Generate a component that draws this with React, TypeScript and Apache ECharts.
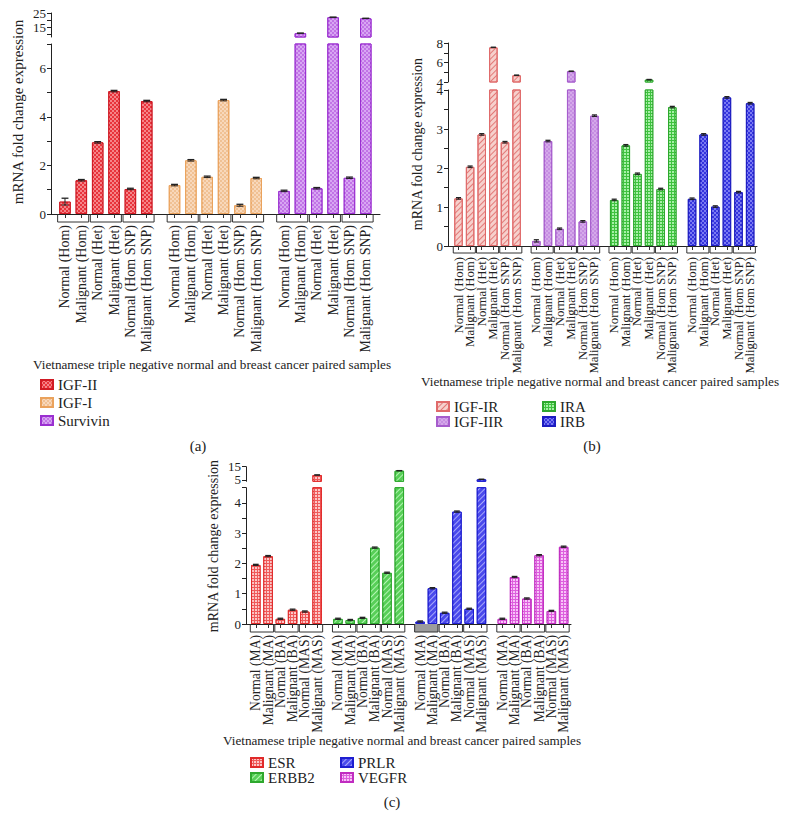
import React, { useEffect, useRef } from "react";
import * as echarts from "echarts";

// ---------- data ----------
const LABELS_AB = ["Normal (Hom)", "Malignant (Hom)", "Normal (Het)", "Malignant (Het)", "Normal (Hom SNP)", "Malignant (Hom SNP)"];
const LABELS_C = ["Normal (MA)", "Malignant (MA)", "Normal (BA)", "Malignant (BA)", "Normal (MAS)", "Malignant (MAS)"];

// panel (a)
const IGF2 = [0.51, 1.39, 2.95, 5.06, 1.03, 4.65];
const IGF2_ERR = [0.14, 0.03, 0.03, 0.03, 0.03, 0.03];
const IGF1 = [1.19, 2.21, 1.53, 4.69, 0.36, 1.48];
const IGF1_ERR = [0.03, 0.03, 0.03, 0.03, 0.04, 0.03];
const SURVIVIN = [0.95, 10.7, 1.06, 22.0, 1.49, 21.2];
const SURVIVIN_ERR = [0.03, 0.05, 0.03, 0.05, 0.03, 0.05];

// panel (b)
const IGF1R = [1.22, 2.03, 2.86, 7.55, 2.66, 4.69];
const IGF1R_ERR = [0.02, 0.02, 0.02, 0.02, 0.02, 0.02];
const IGF2R = [0.13, 2.69, 0.44, 5.1, 0.63, 3.34];
const IGF2R_ERR = [0.03, 0.02, 0.02, 0.02, 0.02, 0.02];
const IRA = [1.18, 2.58, 1.85, 4.24, 1.46, 3.56];
const IRA_ERR = [0.02, 0.02, 0.02, 0.02, 0.02, 0.02];
const IRB = [1.21, 2.86, 1.01, 3.81, 1.38, 3.66];
const IRB_ERR = [0.02, 0.02, 0.02, 0.02, 0.02, 0.02];

// panel (c)
const ESR = [1.95, 2.24, 0.17, 0.47, 0.41, 8.75];
const ESR_ERR = [0.02, 0.02, 0.02, 0.02, 0.02, 0.05];
const ERBB2 = [0.17, 0.13, 0.2, 2.52, 1.69, 12.0];
const ERBB2_ERR = [0.02, 0.02, 0.02, 0.02, 0.02, 0.05];
const PRLR = [0.08, 1.18, 0.37, 3.71, 0.5, 5.5];
const PRLR_ERR = [0.02, 0.02, 0.02, 0.02, 0.02, 0.05];
const VEGFR = [0.17, 1.55, 0.84, 2.27, 0.43, 2.55];
const VEGFR_ERR = [0.02, 0.02, 0.02, 0.02, 0.02, 0.02];

// axis ticks / labels
const A_LOWER_LABELS = [0, 2, 4, 6];
const A_LOWER_TICKS = [0, 1, 2, 3, 4, 5, 6, 7];
const A_UPPER_LABELS = [15, 25];
const A_UPPER_TICKS = [10, 15, 20, 25];
const B_LOWER_LABELS = [0, 1, 2, 3, 4];
const B_LOWER_TICKS = [0, 0.5, 1, 1.5, 2, 2.5, 3, 3.5, 4];
const B_UPPER_LABELS = [4, 6, 8];
const B_UPPER_TICKS = [4, 5, 6, 7, 8];
const C_LOWER_LABELS = [0, 1, 2, 3, 4];
const C_LOWER_TICKS = [0, 0.5, 1, 1.5, 2, 2.5, 3, 3.5, 4, 4.5];
const C_UPPER_LABELS = [5, 15];
const C_UPPER_TICKS = [5, 15];

const X_TITLE = "Vietnamese triple negative normal and breast cancer paired samples";
const Y_TITLE = "mRNA fold change expression";

// ---------- styling helpers ----------
const FONT = "'Liberation Serif', 'Times New Roman', serif";
const INK = "#222";
const GAP = 0.7;
const posOf = (g: number, i: number) => g * (6 + GAP) + i;

const checker = (c: string) => ({ symbol: "rect", symbolSize: 1, dashArrayX: [[2, 2], [0, 2, 2, 0]], dashArrayY: [2, 0], color: c });
const gridPat = (c: string) => ({ symbol: "rect", symbolSize: 1, dashArrayX: [2, 1], dashArrayY: [2, 1], color: c });
const hatch = (c: string) => ({ symbol: "rect", symbolSize: 1, dashArrayX: [1, 0], dashArrayY: [1, 3], rotation: -Math.PI / 4, color: c });

type Gene = { name: string; values: number[]; errs: number[]; color: string; border: string; decal: any };
type Panel = {
  genes: Gene[];
  labels: string[];
  lower: { left: number; top: number; width: number; height: number };
  upper: { left: number; top: number; width: number; height: number };
  xMin: number; xMax: number;
  lowerMax: number; upperMin: number; upperMax: number;
  lowerLabels: number[]; lowerTicks: number[]; upperLabels: number[]; upperTicks: number[];
  barWidth: number; boxDepth: number; filled: number[]; labelSize: number;
};

const PANELS: Panel[] = [
  {
    genes: [
      { name: "IGF-II", values: IGF2, errs: IGF2_ERR, color: "#e8343c", border: "#d01a24", decal: checker("rgba(255,200,200,0.55)") },
      { name: "IGF-I", values: IGF1, errs: IGF1_ERR, color: "#f0c194", border: "#eaa25c", decal: checker("rgba(255,240,225,0.5)") },
      { name: "Survivin", values: SURVIVIN, errs: SURVIVIN_ERR, color: "#c174e6", border: "#9a2fd0", decal: checker("rgba(240,215,255,0.5)") },
    ],
    labels: LABELS_AB,
    lower: { left: 51, top: 44, width: 329, height: 170 },
    upper: { left: 51, top: 13, width: 329, height: 24 },
    xMin: -0.856, xMax: 19.27,
    lowerMax: 7, upperMin: 8, upperMax: 25,
    lowerLabels: A_LOWER_LABELS, lowerTicks: A_LOWER_TICKS, upperLabels: A_UPPER_LABELS, upperTicks: A_UPPER_TICKS,
    barWidth: 11.5, boxDepth: 8, filled: [], labelSize: 14,
  },
  {
    genes: [
      { name: "IGF-IR", values: IGF1R, errs: IGF1R_ERR, color: "#f6d0cc", border: "#e06a6a", decal: hatch("#e27a78") },
      { name: "IGF-IIR", values: IGF2R, errs: IGF2R_ERR, color: "#c68fe2", border: "#a65ccc", decal: checker("rgba(230,200,245,0.45)") },
      { name: "IRA", values: IRA, errs: IRA_ERR, color: "#3fc23f", border: "#2ea82e", decal: gridPat("rgba(200,255,200,0.75)") },
      { name: "IRB", values: IRB, errs: IRB_ERR, color: "#3535de", border: "#1c1cc0", decal: checker("rgba(170,170,255,0.6)") },
    ],
    labels: LABELS_AB,
    lower: { left: 448, top: 90, width: 309, height: 156 },
    upper: { left: 448, top: 43, width: 309, height: 39 },
    xMin: -0.904, xMax: 25.69,
    lowerMax: 4, upperMin: 4, upperMax: 8,
    lowerLabels: B_LOWER_LABELS, lowerTicks: B_LOWER_TICKS, upperLabels: B_UPPER_LABELS, upperTicks: B_UPPER_TICKS,
    barWidth: 8.5, boxDepth: 7, filled: [], labelSize: 12.8,
  },
  {
    genes: [
      { name: "ESR", values: ESR, errs: ESR_ERR, color: "#ef5a5a", border: "#e02a2a", decal: gridPat("rgba(255,225,225,0.8)") },
      { name: "ERBB2", values: ERBB2, errs: ERBB2_ERR, color: "#58cf58", border: "#2ea82e", decal: hatch("rgba(200,255,200,0.8)") },
      { name: "PRLR", values: PRLR, errs: PRLR_ERR, color: "#4a4aec", border: "#1e1ed0", decal: hatch("rgba(190,190,255,0.8)") },
      { name: "VEGFR", values: VEGFR, errs: VEGFR_ERR, color: "#dd5fdd", border: "#c02cc0", decal: gridPat("rgba(255,220,255,0.8)") },
    ],
    labels: LABELS_C,
    lower: { left: 246, top: 487.7, width: 325, height: 136.3 },
    upper: { left: 246, top: 466.7, width: 325, height: 14.6 },
    xMin: -0.8, xMax: 25.7,
    lowerMax: 4.5, upperMin: 4, upperMax: 15,
    lowerLabels: C_LOWER_LABELS, lowerTicks: C_LOWER_TICKS, upperLabels: C_UPPER_LABELS, upperTicks: C_UPPER_TICKS,
    barWidth: 9.5, boxDepth: 8, filled: [6], labelSize: 13.6,
  },
];

function errorRenderer(half: number) {
  return (params: any, api: any) => {
    const x = api.value(0);
    const y = api.value(1);
    const e = api.value(2);
    const t = api.coord([x, y + e]);
    const b = api.coord([x, Math.max(y - e, 0)]);
    return {
      type: "group",
      children: [
        { type: "line", shape: { x1: t[0], y1: t[1], x2: t[0], y2: b[1] }, style: { stroke: INK, lineWidth: 1 } },
        { type: "line", shape: { x1: t[0] - half, y1: t[1], x2: t[0] + half, y2: t[1] }, style: { stroke: INK, lineWidth: 1.3 } },
        { type: "line", shape: { x1: b[0] - half, y1: b[1], x2: b[0] + half, y2: b[1] }, style: { stroke: INK, lineWidth: 1 } },
      ],
    };
  };
}

function bracketRenderer(depth: number) {
  return (params: any, api: any) => {
    const a = api.coord([api.value(0), 0]);
    const b = api.coord([api.value(1), 0]);
    const y0 = a[1];
    const children: any[] = [];
    if (api.value(2) === 1) {
      children.push({ type: "rect", shape: { x: a[0], y: y0, width: b[0] - a[0], height: depth }, style: { fill: "#9c9c9c" } });
    }
    children.push({
      type: "polyline",
      shape: { points: [[a[0], y0], [a[0], y0 + depth], [b[0], y0 + depth], [b[0], y0]] },
      style: { stroke: "#333", fill: "none", lineWidth: 1 },
    });
    return { type: "group", children };
  };
}

function labelRenderer(names: string[], size: number, margin: number) {
  return (params: any, api: any) => {
    const p = api.coord([api.value(0), 0]);
    return {
      type: "text",
      x: p[0],
      y: p[1] + margin,
      rotation: Math.PI / 2,
      style: {
        text: names[params.dataIndex], fontFamily: FONT, fontSize: size, fill: INK,
        textAlign: "right", textVerticalAlign: "middle",
      },
    };
  };
}

function buildOption() {
  const grid: any[] = [];
  const xAxis: any[] = [];
  const yAxis: any[] = [];
  const series: any[] = [];

  PANELS.forEach((p, pi) => {
    const L = pi * 2;
    const U = pi * 2 + 1;
    grid.push({ ...p.lower, outerBoundsMode: "none", containLabel: false });
    grid.push({ ...p.upper, outerBoundsMode: "none", containLabel: false });

    const positions: number[] = [];
    const names: string[] = [];
    p.genes.forEach((g, k) => p.labels.forEach((lab, i) => { positions.push(posOf(k, i)); names.push(lab); }));

    xAxis.push({
      gridIndex: L, type: "value", min: p.xMin, max: p.xMax,
      axisLine: { show: true, onZero: false, lineStyle: { color: INK, width: 1 } },
      axisTick: { show: true, customValues: positions, length: 4, lineStyle: { color: "#333" } },
      axisLabel: { show: false },
      splitLine: { show: false },
    });
    xAxis.push({ gridIndex: U, type: "value", min: p.xMin, max: p.xMax, show: false, splitLine: { show: false } });

    const yBase = (min: number, max: number, labels: number[], ticks: number[]) => ({
      type: "value", min, max,
      axisLine: { show: true, onZero: false, lineStyle: { color: INK, width: 1 } },
      axisTick: { show: true, customValues: ticks, length: 4, lineStyle: { color: INK } },
      axisLabel: {
        customValues: labels, fontSize: 13, margin: 5, color: INK, fontFamily: FONT,
        showMinLabel: true, showMaxLabel: true, hideOverlap: false,
      },
      splitLine: { show: false },
    });
    yAxis.push({ gridIndex: L, ...yBase(0, p.lowerMax, p.lowerLabels, p.lowerTicks) });
    yAxis.push({ gridIndex: U, ...yBase(p.upperMin, p.upperMax, p.upperLabels, p.upperTicks) });

    const half = p.barWidth * 0.3;
    p.genes.forEach((g, k) => {
      const pts = g.values.map((v, i) => [posOf(k, i), v, g.errs[i]]);
      const style = { color: g.color, borderColor: g.border, borderWidth: 1, decal: g.decal };
      series.push({
        type: "bar", name: g.name, xAxisIndex: L, yAxisIndex: L, barWidth: p.barWidth, barGap: "-100%",
        data: pts.map((q) => [q[0], q[1]]), itemStyle: style, emphasis: { disabled: true }, z: 2,
      });
      series.push({
        type: "bar", name: g.name, xAxisIndex: U, yAxisIndex: U, barWidth: p.barWidth, barGap: "-100%",
        data: pts.filter((q) => q[1] > p.lowerMax).map((q) => [q[0], q[1]]), itemStyle: style, emphasis: { disabled: true }, z: 2,
      });
      series.push({
        type: "custom", xAxisIndex: L, yAxisIndex: L, silent: true, z: 5,
        data: pts.filter((q) => q[1] <= p.lowerMax), renderItem: errorRenderer(half),
      });
      series.push({
        type: "custom", xAxisIndex: U, yAxisIndex: U, silent: true, z: 5,
        data: pts.filter((q) => q[1] > p.lowerMax), renderItem: errorRenderer(half),
      });
    });

    const boxes: number[][] = [];
    p.genes.forEach((g, k) => {
      for (let j = 0; j < 3; j++) {
        const bi = k * 3 + j;
        boxes.push([posOf(k, 2 * j) - 0.45, posOf(k, 2 * j + 1) + 0.45, p.filled.includes(bi) ? 1 : 0]);
      }
    });
    series.push({
      type: "custom", xAxisIndex: L, yAxisIndex: L, silent: true, z: 6, clip: false,
      data: boxes, renderItem: bracketRenderer(p.boxDepth),
    });
    // category labels, one per bar, placed through the x scale
    series.push({
      type: "custom", xAxisIndex: L, yAxisIndex: L, silent: true, z: 6, clip: false,
      data: positions.map((q) => [q, 0]), renderItem: labelRenderer(names, p.labelSize, 11),
    });
  });

  const legendBase = {
    orient: "vertical", icon: "rect", itemWidth: 12, itemHeight: 9, selectedMode: false,
    textStyle: { fontSize: 15, color: INK, fontFamily: FONT },
  };

  const txt = (text: string, x: number, y: number, size: number, extra: any = {}) => ({
    type: "text", x, y,
    style: { text, fontFamily: FONT, fontSize: size, fill: INK, textAlign: "left", textVerticalAlign: "middle", ...extra },
  });
  const yTitle = (x: number, y: number, size: number) => ({
    type: "text", x, y, rotation: Math.PI / 2,
    style: { text: Y_TITLE, fontFamily: FONT, fontSize: size, fill: INK, textAlign: "center", textVerticalAlign: "middle" },
  });

  return {
    animation: false,
    backgroundColor: "#ffffff",
    textStyle: { fontFamily: FONT },
    grid, xAxis, yAxis, series,
    legend: [
      { ...legendBase, data: ["IGF-II", "IGF-I", "Survivin"], left: 35, top: 372, itemGap: 3 },
      { ...legendBase, data: ["IGF-IR", "IGF-IIR"], left: 431, top: 394, itemGap: 0 },
      { ...legendBase, data: ["IRA", "IRB"], left: 537, top: 394, itemGap: 0 },
      { ...legendBase, data: ["ESR", "ERBB2"], left: 245, top: 750, itemGap: 0 },
      { ...legendBase, data: ["PRLR", "VEGFR"], left: 335, top: 750, itemGap: 0 },
    ],
    graphic: [
      yTitle(18, 112, 15),
      yTitle(417, 144, 14),
      yTitle(213, 546, 14),
      txt(X_TITLE, 33, 364, 13.2),
      txt(X_TITLE, 421, 381, 13.2),
      txt(X_TITLE, 223, 740, 13.2),
      txt("(a)", 198, 446, 15, { textAlign: "center" }),
      txt("(b)", 592, 446, 15, { textAlign: "center" }),
      txt("(c)", 392, 802, 15, { textAlign: "center" }),
    ],
  };
}

export default function App() {
  const ref = useRef<HTMLDivElement>(null);
  useEffect(() => {
    if (!ref.current) return;
    const chart = echarts.init(ref.current, null, { renderer: "svg" });
    chart.setOption(buildOption() as any);
    return () => chart.dispose();
  }, []);
  return <div ref={ref} style={{ position: "absolute", left: 0, top: 0, width: 788, height: 815 }} />;
}
